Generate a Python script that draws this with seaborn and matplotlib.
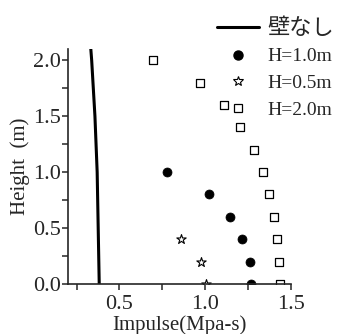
import matplotlib
matplotlib.use("Agg")
import matplotlib.pyplot as plt
import seaborn as sns
import numpy as np
from matplotlib.lines import Line2D
from matplotlib.ticker import MultipleLocator

# 壁なし (no wall) curve
nowall_height = [0.0, 0.5, 1.0, 1.5, 2.0, 2.1]
nowall_impulse = [0.382, 0.376, 0.370, 0.357, 0.338, 0.333]

# H=1.0m
h10_height = [1.0, 0.8, 0.6, 0.4, 0.2, 0.0]
h10_impulse = [0.777, 1.021, 1.145, 1.215, 1.258, 1.267]

# H=0.5m
h05_height = [0.4, 0.2, 0.0]
h05_impulse = [0.860, 0.973, 1.004]

# H=2.0m
h20_height = [2.0, 1.8, 1.6, 1.4, 1.2, 1.0, 0.8, 0.6, 0.4, 0.2, 0.0]
h20_impulse = [0.698, 0.969, 1.109, 1.203, 1.287, 1.337, 1.372, 1.399, 1.419, 1.432, 1.438]

sns.set_style("ticks")
plt.rcParams['font.family'] = ['Liberation Serif', 'Noto Sans CJK JP']
plt.rcParams['axes.linewidth'] = 1.2

fig = plt.figure(figsize=(3.4, 3.34), dpi=100)
ax = fig.add_axes([0.2, 0.15, 0.656, 0.703])

sns.lineplot(x=nowall_impulse, y=nowall_height, sort=False, estimator=None,
             color='black', linewidth=2.2, ax=ax)
sns.scatterplot(x=h10_impulse, y=h10_height, marker='o', s=42, color='black',
                edgecolor='black', ax=ax)
sns.scatterplot(x=h05_impulse, y=h05_height, marker='*', s=50, facecolor='white',
                edgecolor='black', linewidth=0.8, ax=ax)
sns.scatterplot(x=h20_impulse, y=h20_height, marker='s', s=30, facecolor='white',
                edgecolor='black', linewidth=0.9, ax=ax)

ax.set_xlim(0.2, 1.5)
ax.set_ylim(0.0, 2.1)
ax.xaxis.set_major_locator(MultipleLocator(0.5))
ax.xaxis.set_minor_locator(MultipleLocator(0.25))
ax.yaxis.set_major_locator(MultipleLocator(0.5))
ax.yaxis.set_minor_locator(MultipleLocator(0.25))
ax.tick_params(which='both', direction='out', length=4, width=1.1, labelsize=16)
ax.tick_params(axis='y', pad=1)
ax.tick_params(axis='x', pad=4)
ax.set_xticks([0.5, 1.0, 1.5])
ax.set_xticklabels(['0.5', '1.0', '1.5'])
ax.set_xlabel('Impulse(Mpa-s)', fontsize=15, labelpad=1)
ax.set_ylabel('Height  (m)', fontsize=15, labelpad=2)
sns.despine(ax=ax)

handles = [
    Line2D([], [], color='black', linewidth=2.2),
    Line2D([], [], marker='o', linestyle='none', color='black', markersize=6.5),
    Line2D([], [], marker='*', linestyle='none', markerfacecolor='white',
           markeredgecolor='black', markersize=7.5, markeredgewidth=0.8),
    Line2D([], [], marker='s', linestyle='none', markerfacecolor='white',
           markeredgecolor='black', markersize=5.5, markeredgewidth=0.9),
]
labels = ['壁なし', 'H=1.0m', 'H=0.5m', 'H=2.0m']
leg = fig.legend(handles, labels, loc='upper left', bbox_to_anchor=(0.637, 0.946),
                 frameon=False, fontsize=14, handlelength=2.2, handletextpad=0.4,
                 labelspacing=0.47, borderpad=0, borderaxespad=0)
leg.get_texts()[0].set_fontsize(16)

fig.savefig('out.png', dpi=100)
